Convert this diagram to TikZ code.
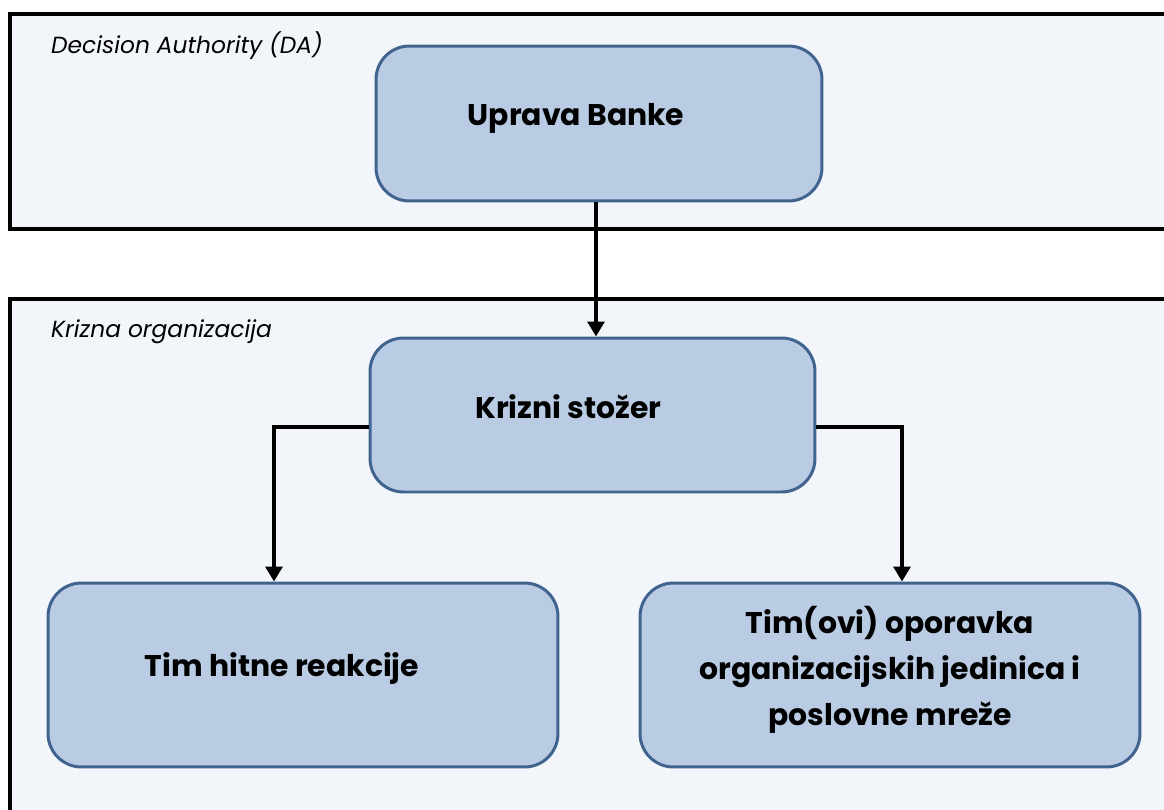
\documentclass[tikz,border=0pt]{standalone}
\usepackage{fontspec}
\setmainfont{Poppins}
\usepackage{xcolor}
\usepackage{tikz}
\usetikzlibrary{calc,arrows.meta}
\definecolor{panel}{HTML}{F2F5FA}
\definecolor{boxfill}{HTML}{B9CCE4}
\definecolor{boxline}{HTML}{41648F}
\tikzset{
  frame/.style={draw=black, fill=panel, line width=2.4pt},
  box/.style={draw=boxline, fill=boxfill, line width=1.7pt, rounded corners=19pt, inner sep=0pt},
  link/.style={draw=black, line width=2.7pt, -{Triangle[length=8.5pt,width=9.5pt]}},
  lab/.style={text=black, font=\fontsize{17}{26}\selectfont\bfseries, align=center},
  tag/.style={text=black, font=\fontsize{13.3}{15}\selectfont\itshape, anchor=base west},
}

\begin{document}
\begin{tikzpicture}[x=0.02cm, y=-0.02cm]
  \useasboundingbox (0,0) rectangle (1164,809);
  \begin{scope}
  \clip (0,0) rectangle (1164,809);

  % two panels
  \draw[frame] (10,14) rectangle (1180,229);
  \draw[frame] (10,299) rectangle (1180,830);
  \node[tag] (da) at (45,53) {Decision Authority (DA)};
  \node[tag] (ko) at (45,337) {Krizna organizacija};

  % boxes
  \node[box, minimum width=8.92cm, minimum height=3.10cm] (uprava) at (599,123.5) {};
  \node[box, minimum width=8.90cm, minimum height=3.08cm] (stozer) at (592.5,415) {};
  \node[box, minimum width=10.2cm, minimum height=3.68cm] (hitne) at (303,675) {};
  \node[box, minimum width=10.0cm, minimum height=3.68cm] (timovi) at (890,675) {};

  \node[lab] (upravat) at ($(uprava)+(-23,-5)$) {Uprava Banke};
  \node[lab] (stozert) at ($(stozer)+(-24,-8)$) {Krizni stožer};
  \node[lab] (hitnet) at ($(hitne)+(-21,-6)$) {Tim hitne reakcije};
  \node[lab] (timovit) at ($(timovi)+(0,-5)$) {Tim(ovi) oporavka\\organizacijskih jedinica i\\poslovne mreže};

  % connectors
  \coordinate (us) at ($(uprava.south)+(-3,0)$);
  \coordinate (sn) at (us |- stozer.north);
  \coordinate (hl) at ($(hitne.north)+(-29,0)$);
  \coordinate (tr) at ($(timovi.north)+(12,0)$);
  \draw[link] (us) -- (sn);
  \draw[link] ($(stozer.west)+(0,12)$) -| (hl);
  \draw[link] ($(stozer.east)+(0,12)$) -| (tr);
  \end{scope}
\end{tikzpicture}
\end{document}
